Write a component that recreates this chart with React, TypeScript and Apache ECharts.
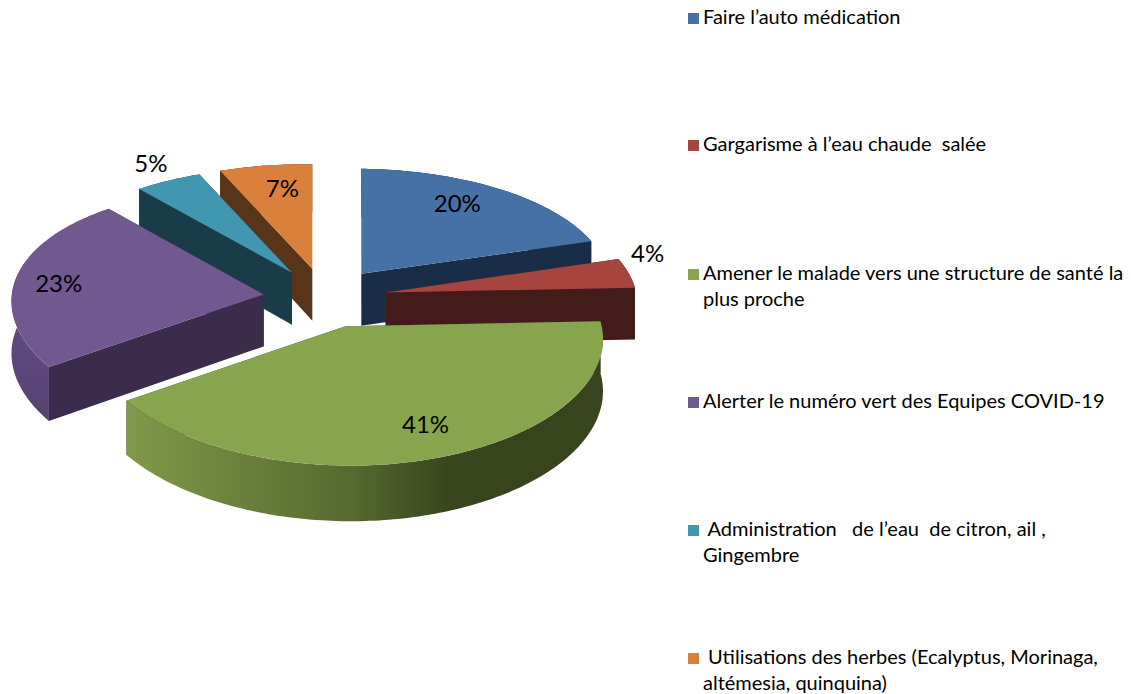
import React, { useEffect, useRef } from "react";
import * as echarts from "echarts";

const categories = [
  "Faire l’auto médication",
  "Gargarisme à l’eau chaude  salée",
  "Amener le malade vers une structure de santé la\nplus proche",
  "Alerter le numéro vert des Equipes COVID-19",
  " Administration   de l’eau  de citron, ail ,\nGingembre",
  " Utilisations des herbes (Ecalyptus, Morinaga,\naltémesia, quinquina)",
];
const values = [20, 4, 41.2, 23.4, 4.8, 6.6];
const topColors = ["#4571a7", "#a64440", "#87a54d", "#71588f", "#4197b0", "#d8803c"];
const wallColors = ["#1a2d46", "#431c1a", "#384520", "#3c2c4c", "#1a3c48", "#583519"];
const drawOrder = [0, 1, 5, 4, 3, 2];
const labelOffsets = [
  [96, -71],
  [262, -40],
  [80, 97],
  [-205, -12],
  [-141, -110],
  [-30, -81],
];

const CX = 325;
const CY = 298;
const RX = 252;
const RY = 122;
const EXPLODE = 0.245;
const PERSPECTIVE_X = 0.08;
const PERSPECTIVE_Y = 0.1157;
const TILT = 3;
const DEPTH = 52;
const LEGEND_X = 688;
const LEGEND_Y = [18, 145, 274, 402, 530, 658];
const FONT = "Lato, Carlito, Calibri, sans-serif";

const total = values.reduce((a, b) => a + b, 0);
const RAD = Math.PI / 180;

function sliceAngles(i: number) {
  const before = values.slice(0, i).reduce((a, b) => a + b, 0);
  const start = (before / total) * 360;
  const end = ((before + values[i]) / total) * 360;
  return { start, end, mid: (start + end) / 2 };
}

function project(mid: number, theta: number, r: number) {
  const m = mid * RAD;
  const t = theta * RAD;
  const ax = CX + EXPLODE * RX * Math.sin(m);
  const ay = CY - EXPLODE * RY * Math.cos(m);
  const world = EXPLODE * Math.cos(m) + r * Math.cos(t);
  return [
    ax + RX * r * Math.sin(t) * (1 - PERSPECTIVE_X * world),
    ay - RY * r * Math.cos(t) * (1 - PERSPECTIVE_Y * world) + TILT * r * Math.sin(t),
    DEPTH * (1 - 0.07 * r * Math.cos(t)),
  ];
}

function arcPoints(mid: number, a: number, b: number) {
  const pts: number[][] = [];
  const n = Math.max(2, Math.ceil(Math.abs(b - a)));
  for (let k = 0; k <= n; k++) pts.push(project(mid, a + ((b - a) * k) / n, 1));
  return pts;
}

function edgeWall(mid: number, theta: number) {
  const apex = project(mid, theta, 0);
  const rim = project(mid, theta, 1);
  return [
    [apex[0], apex[1]],
    [rim[0], rim[1]],
    [rim[0], rim[1] + rim[2]],
    [apex[0], apex[1] + apex[2]],
  ];
}

const renderSlice = (params: any, api: any) => {
  const order = params.dataIndex;
  const i = drawOrder[order];
  const { start, end, mid } = sliceAngles(i);
  const arc = arcPoints(mid, start, end);
  const apex = project(mid, 0, 0);
  const z2 = order * 10;
  const wall = wallColors[i];

  let outerFill: any = wall;
  if (i === 2) {
    outerFill = new echarts.graphic.LinearGradient(0, 0, 1, 0, [
      { offset: 0, color: "#81994a" },
      { offset: 0.48, color: "#55682f" },
      { offset: 0.68, color: "#37441e" },
      { offset: 1, color: "#37441e" },
    ]);
  } else if (i === 3) {
    outerFill = new echarts.graphic.LinearGradient(0, 0, 0, 1, [
      { offset: 0, color: "#6b5489" },
      { offset: 1, color: "#574373" },
    ]);
  }
  const outer = [
    ...arc.map((p) => [p[0], p[1]]),
    ...arc
      .slice()
      .reverse()
      .map((p) => [p[0], p[1] + p[2]]),
  ];
  const top = [[apex[0], apex[1]], ...arc.map((p) => [p[0], p[1]])];
  const label = `${Math.round((api.value(0) / total) * 100)}%`;

  return {
    type: "group",
    children: [
      { type: "polygon", z2, shape: { points: edgeWall(mid, end) }, style: { fill: wall } },
      { type: "polygon", z2: z2 + 1, shape: { points: edgeWall(mid, start) }, style: { fill: wall } },
      { type: "polygon", z2: z2 + 2, shape: { points: outer }, style: { fill: outerFill } },
      { type: "polygon", z2: z2 + 3, shape: { points: top }, style: { fill: topColors[i] } },
      {
        type: "text",
        z2: 200,
        x: apex[0] + labelOffsets[i][0],
        y: apex[1] + labelOffsets[i][1],
        style: {
          text: label,
          fill: "#000000",
          font: `24px ${FONT}`,
          align: "center",
          verticalAlign: "middle",
        },
      },
    ],
  };
};

export default function App() {
  const ref = useRef<HTMLDivElement>(null);
  useEffect(() => {
    const chart = echarts.init(ref.current!, undefined, { renderer: "svg" });
    const legend: any[] = [];
    categories.forEach((name, i) => {
      legend.push({
        type: "rect",
        left: LEGEND_X,
        top: LEGEND_Y[i] - 5,
        shape: { width: 11, height: 11 },
        style: { fill: topColors[i] },
      });
      legend.push({
        type: "text",
        x: LEGEND_X + 15,
        y: LEGEND_Y[i] - 15,
        style: {
          text: name,
          fill: "#000000",
          font: `20px ${FONT}`,
          lineHeight: 26,
          align: "left",
          verticalAlign: "top",
        },
      });
    });
    chart.setOption({
      animation: false,
      backgroundColor: "#ffffff",
      graphic: { elements: legend },
      series: [
        {
          type: "custom",
          coordinateSystem: "none",
          silent: true,
          clip: false,
          data: drawOrder.map((i) => [values[i]]),
          renderItem: renderSlice,
        },
      ],
    });
    return () => chart.dispose();
  }, []);
  return (
    <div
      ref={ref}
      style={{ position: "absolute", left: 0, top: 0, width: 1131, height: 694 }}
    />
  );
}
